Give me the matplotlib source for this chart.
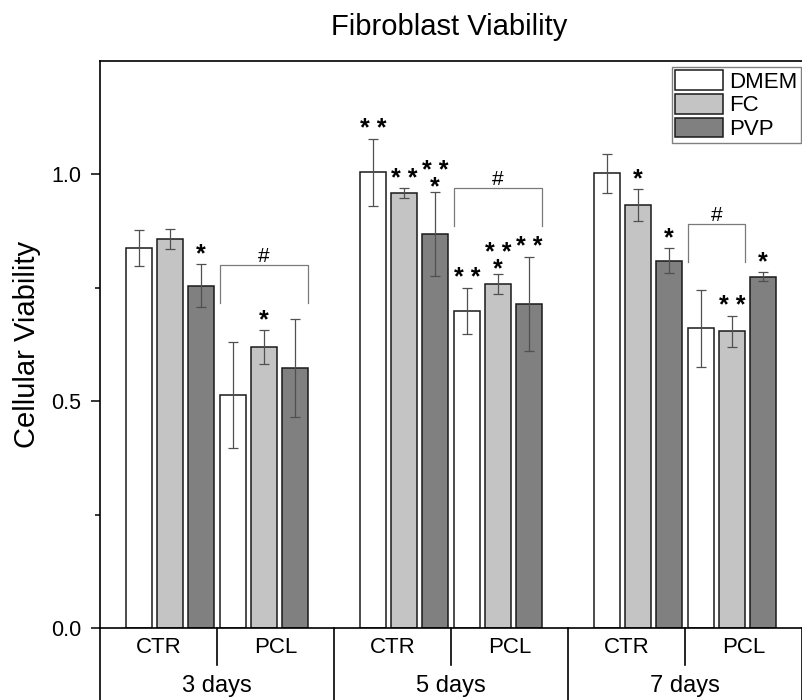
import numpy as np
import matplotlib
matplotlib.use('Agg')
import matplotlib.pyplot as plt
from matplotlib.patches import Patch
import matplotlib.transforms as mtransforms

plt.rcParams['font.family'] = ['Liberation Sans', 'DejaVu Sans']

# data (order: 3d CTR, 3d PCL, 5d CTR, 5d PCL, 7d CTR, 7d PCL)
days = ['3 days', '5 days', '7 days']
substrates = ['CTR', 'PCL']
media = ['DMEM', 'FC', 'PVP']

dmem = [0.837, 0.513, 1.005, 0.699, 1.002, 0.661]
dmem_err = [0.040, 0.117, 0.074, 0.050, 0.042, 0.085]
fc = [0.857, 0.619, 0.959, 0.758, 0.932, 0.654]
fc_err = [0.022, 0.037, 0.010, 0.022, 0.035, 0.034]
pvp = [0.755, 0.573, 0.868, 0.714, 0.810, 0.774]
pvp_err = [0.048, 0.108, 0.093, 0.104, 0.028, 0.010]

# significance marks above each bar
dmem_sig = ['', '', '* *', '* *', '', '']
fc_sig = ['', '*', '* *', '* *\n*', '*', '* *']
pvp_sig = ['*', '', '* *\n*', '* *', '*', '*']

# "#" brackets over the PCL groups: top value and last medium covered
bracket_top = [0.80, 0.97, 0.89]
bracket_last = [2, 2, 1]

colors = ['white', '#c4c4c4', '#808080']

fig = plt.figure(figsize=(8.02, 7), dpi=100)
ax = fig.add_axes([100/802, 72/700, 702/802, 567/700])

centers = []
for d in range(len(days)):
    for s in range(len(substrates)):
        centers.append(d + 0.3 + 0.4*s)
centers = np.array(centers)

step = 0.1325
width = 0.111
vals = [dmem, fc, pvp]
errs = [dmem_err, fc_err, pvp_err]
sigs = [dmem_sig, fc_sig, pvp_sig]

for i in range(3):
    xs = centers + (i - 1)*step
    ax.bar(xs, vals[i], width, color=colors[i], edgecolor='#1a1a1a',
           linewidth=1.1, zorder=2, label=media[i])
    ax.errorbar(xs, vals[i], yerr=errs[i], fmt='none', ecolor='#505050',
                elinewidth=0.9, capsize=3.8, capthick=0.9, zorder=3)
    for x, v, e, s in zip(xs, vals[i], errs[i], sigs[i]):
        if not s:
            continue
        if '\n' not in s:
            ax.annotate(s, (x, v + e), xytext=(0, 2), textcoords='offset points',
                        ha='center', va='baseline', fontsize=18, fontweight='bold')
        else:
            ax.annotate(s, (x, v + e), xytext=(0, -5), textcoords='offset points',
                        ha='center', va='bottom', fontsize=18, fontweight='bold',
                        linespacing=0.6, multialignment='center')

# brackets
leg = 0.084
for d in range(len(days)):
    c = centers[2*d + 1]
    x0 = c - step - width/2
    x1 = c + (bracket_last[d] - 1)*step + width/2
    top = bracket_top[d]
    ax.plot([x0, x0, x1, x1], [top - leg, top, top, top - leg], color='#7a7a7a', lw=0.9, zorder=3)
    ax.annotate('#', ((x0 + x1)/2, top), xytext=(0, 2.5), textcoords='offset points',
                ha='center', va='baseline', fontsize=15)

ax.set_xlim(0, 3)
ax.set_ylim(0, 1.25)
ax.set_yticks([0, 0.5, 1.0])
ax.set_yticklabels(['0.0', '0.5', '1.0'])
ax.set_yticks([0.25, 0.75], minor=True)
ax.tick_params(axis='y', which='major', length=6.5, width=1.1, labelsize=15.5, pad=7, direction='out')
ax.tick_params(axis='y', which='minor', length=3.6, width=1.1, direction='out')
ax.set_xticks([])
for sp in ['left', 'top', 'bottom']:
    ax.spines[sp].set_linewidth(1.2)
ax.spines['right'].set_visible(False)

# category table under the axis
trans = mtransforms.blended_transform_factory(ax.transData, ax.transAxes)
for d in range(len(days) + 1):
    ax.plot([d, d], [0, -0.13], transform=trans, color='black', lw=1.2, clip_on=False)
for d in range(len(days)):
    ax.plot([d + 0.5, d + 0.5], [0, -0.066], transform=trans, color='black', lw=1.2, clip_on=False)
    for s in range(len(substrates)):
        ax.text(d + 0.25 + 0.5*s, -0.034, substrates[s], transform=trans,
                ha='center', va='center', fontsize=16)
    ax.text(d + 0.5, -0.102, days[d], transform=trans, ha='center', va='center', fontsize=17)

handles = [Patch(facecolor=colors[i], edgecolor='#1a1a1a', linewidth=1.1) for i in range(3)]
lg = ax.legend(handles, media, loc='upper right', bbox_to_anchor=(0.998, 0.989),
               fontsize=16, frameon=True, fancybox=False, edgecolor='#808080',
               framealpha=1, handlelength=2.16, handleheight=0.99, handletextpad=0.27,
               labelspacing=0.05, borderpad=0.14, borderaxespad=0)
lg.get_frame().set_linewidth(1.0)

fig.text(27/802, 1 - 344/700, 'Cellular Viability', rotation=90, ha='center', va='center', fontsize=21)
fig.text(449/802, 1 - 27/700, 'Fibroblast Viability', ha='center', va='center', fontsize=21)

fig.savefig('out.png', dpi=100)
